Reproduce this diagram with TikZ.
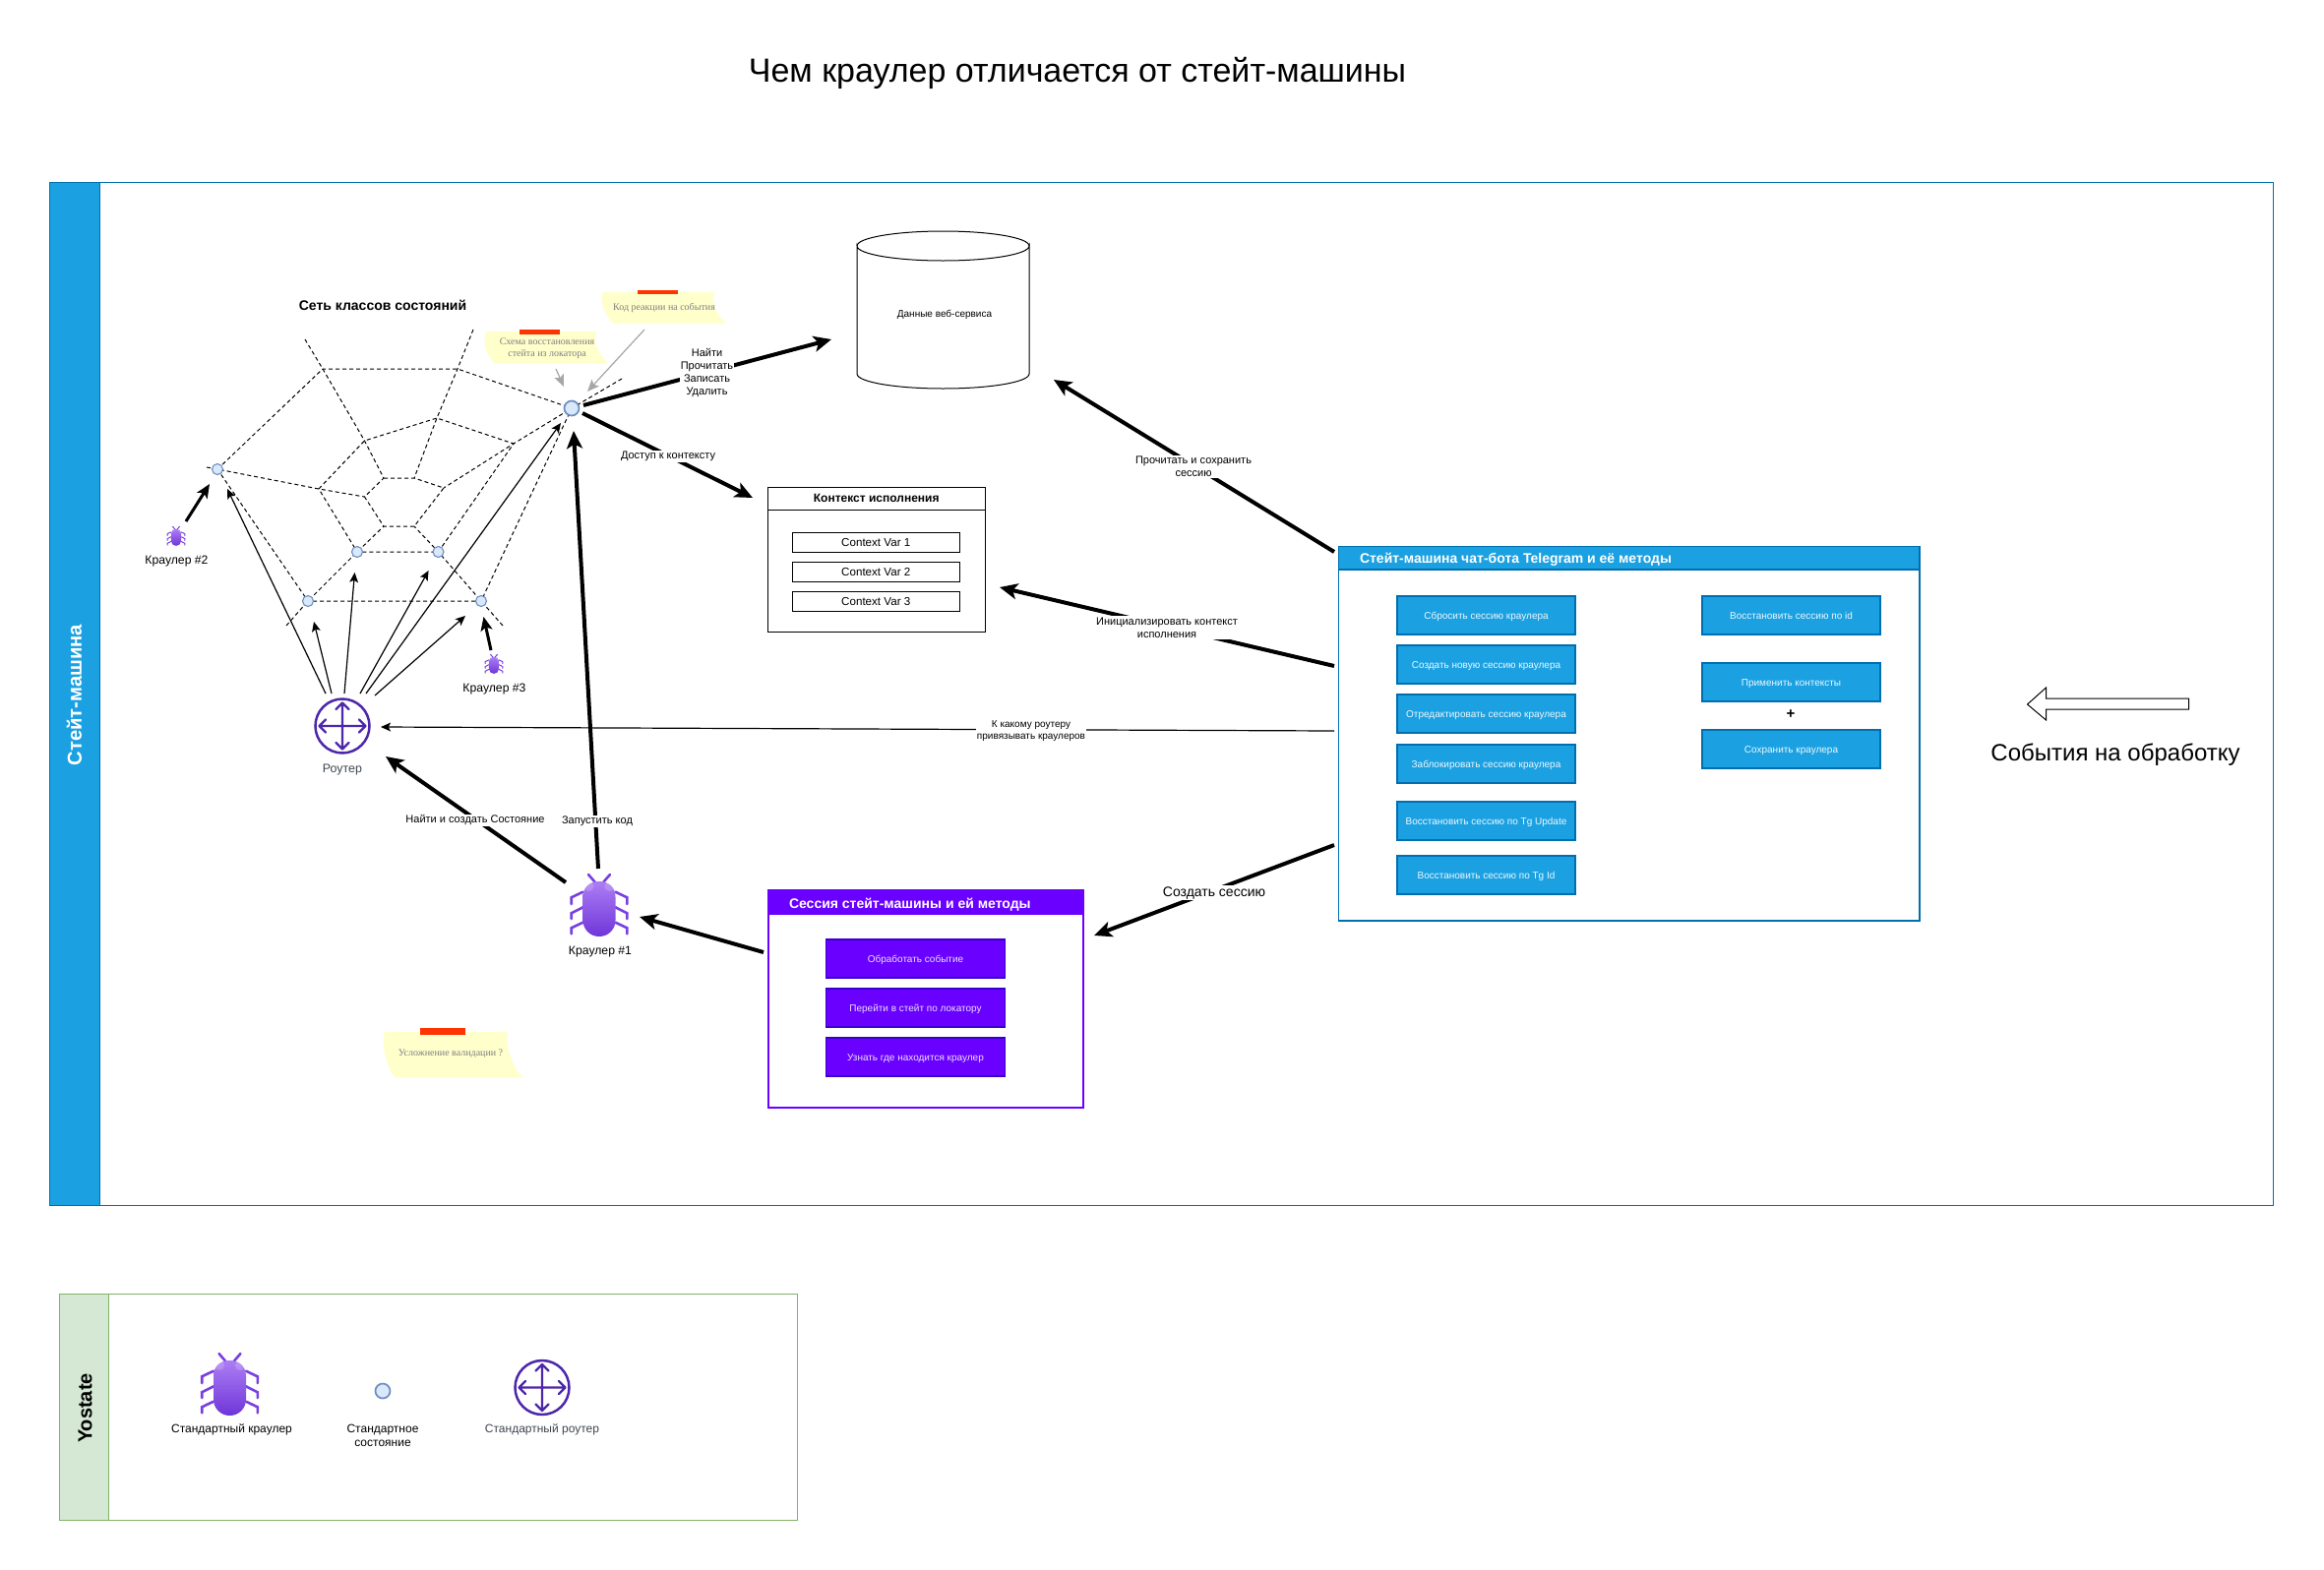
\documentclass[tikz,border=0pt]{standalone}
\usepackage{fontspec}
\setmainfont{Liberation Sans}
\newfontfamily\notefont{Liberation Serif}
\usetikzlibrary{arrows.meta}
\definecolor{lanefill}{HTML}{1BA1E2}
\definecolor{laneline}{HTML}{006EAF}
\definecolor{violetfill}{HTML}{6A00FF}
\definecolor{violetline}{HTML}{3700CC}
\definecolor{routerc}{HTML}{4D27AA}
\definecolor{routerl}{HTML}{3F4650}
\definecolor{greenfill}{HTML}{D5E8D4}
\definecolor{greenline}{HTML}{82B366}
\definecolor{dotfill}{HTML}{DAE8FC}
\definecolor{dotline}{HTML}{6C8EBF}
\definecolor{notefill}{HTML}{FFFFCC}
\definecolor{tabred}{HTML}{FF3300}
\definecolor{bugtop}{HTML}{AC7EF4}
\definecolor{bugbot}{HTML}{6F35D8}
\definecolor{bugleg}{HTML}{7A3FE0}
\definecolor{notetext}{HTML}{7F7F7F}
\tikzset{
  x=0.5pt,y=-0.5pt,
  every node/.style={inner sep=0pt,outer sep=0pt,align=center,text=black},
  fsB/.style={font=\fontsize{5.5}{6.5}\selectfont},
  fsC/.style={font=\fontsize{6.1}{7}\selectfont},
  fsK/.style={font=\fontsize{5}{6}\selectfont},
  bigarrow/.style={line width=2pt,-{Stealth[length=9pt,width=8pt,inset=2.2pt]}},
  midarrow/.style={line width=1.5pt,-{Stealth[length=7pt,width=6pt,inset=1.6pt]}},
  thinarrow/.style={line width=0.6pt,-{Stealth[length=5pt,width=4.4pt,inset=1.1pt]}},
  notearrow/.style={line width=0.6pt,draw=black!35,-{Stealth[length=6pt,width=5pt,inset=1.2pt]}},
  web/.style={line width=0.5pt,dash pattern=on 2pt off 1.5pt},
  smalldot/.style={circle,draw=dotline,fill=dotfill,line width=0.55pt,minimum size=5.5pt},
  bigdot/.style={circle,draw=dotline,fill=dotfill,line width=0.85pt,minimum size=7.5pt},
  bluebtn/.style={draw=laneline,fill=lanefill,line width=0.8pt,text=white!92!lanefill,font=\fontsize{5}{6}\selectfont},
  violetbtn/.style={draw=violetline,fill=violetfill,line width=0.8pt,text=white!88!violetfill,font=\fontsize{5}{6}\selectfont},
  varbox/.style={draw=black,fill=white,line width=0.5pt,font=\fontsize{5.8}{6.5}\selectfont},
  lab/.style={fill=white,inner sep=0.6pt},
  notetxt/.style={text=notetext,font=\notefont\fontsize{5}{6.1}\selectfont}
}
% box given by its corners in picture units
\newcommand\pbox[7]{\node[#6,minimum width={(#4-#2)*0.5pt},minimum height={(#5-#3)*0.5pt}] (#1) at ({(#2+#4)/2},{(#3+#5)/2}) {\raisebox{-0.36em}[0pt][0pt]{#7}};}
% name, x, y, scale, line width
\newcommand\bugicon[5]{%
  \node[minimum width={59*#4*0.5pt},minimum height={64*#4*0.5pt}] (#1) at (#2,#3) {};
  \begin{scope}[shift={(#2,#3)},scale=#4]
    \draw[bugleg,line width=#5,line cap=round]
      (-11,-31)--(-4.3,-23.3) (11,-31)--(4.3,-23.3)
      (-16.5,-13.3)--(-28.3,-7.7)--(-28.3,-1)
      (-16.5,2.3)--(-28.3,8.3)--(-28.3,14)
      (-16.5,17.7)--(-28.3,23.3)--(-28.3,29.3)
      (16.5,-13.3)--(28.3,-7.7)--(28.3,-1)
      (16.5,2.3)--(28.3,8.3)--(28.3,14)
      (16.5,17.7)--(28.3,23.3)--(28.3,29.3);
    \shade[top color=bugtop,bottom color=bugbot]
      (-16.5,-8) .. controls (-16.5,-18) and (-10,-24) .. (0,-24)
      .. controls (10,-24) and (16.5,-18) .. (16.5,-8) -- (16.5,15.5)
      .. controls (16.5,25) and (9,32) .. (0,32)
      .. controls (-9,32) and (-16.5,25) .. (-16.5,15.5) -- cycle;
    \fill[white,opacity=0.18] (-10.5,-19) circle (5);
    \fill[white,opacity=0.18] (10.5,-19) circle (5);
  \end{scope}}
% name, x, y
\newcommand\routericon[3]{%
  \node[circle,draw=routerc,line width=1.25pt,minimum size=27.5pt] (#1) at (#2,#3) {};
  \begin{scope}[shift={(#2,#3)}]
    \draw[routerc,line width=1.1pt,line cap=round,line join=round]
      (-23.5,0)--(23.5,0) (0,-23.5)--(0,23.5)
      (-17,-6.5)--(-23.5,0)--(-17,6.5) (17,-6.5)--(23.5,0)--(17,6.5)
      (-6.5,-17)--(0,-23.5)--(6.5,-17) (-6.5,17)--(0,23.5)--(6.5,17);
  \end{scope}}
% sticky note: TL, TR, BR, BL, tab x1,y1,x2,y2
\newcommand\sticky[8]{%
  \fill[notefill] (#1) .. controls ++(-4,12) and ++(-8,-10) ..  (#4) -- (#3)
    .. controls ++(-10,-10) and ++(-3,14) .. (#2) -- cycle;
  \fill[tabred] (#5,#6) rectangle (#7,#8);}
\begin{document}
\begin{tikzpicture}
\useasboundingbox (0,0) rectangle (2362,1596);
\fill[white] (0,0) rectangle (2362,1596);

% title
\node[font=\fontsize{17}{20}\selectfont] (title) at (1095,74) {Чем краулер отличается от стейт-машины};

% main lane
\pbox{lane}{50}{185.5}{2310}{1225}{draw=laneline,fill=white,line width=0.45pt}{}
\pbox{laneh}{50}{185.5}{101}{1225}{draw=laneline,fill=lanefill,line width=0.45pt}{}
\node[rotate=90,text=white,font=\bfseries\fontsize{10.1}{12}\selectfont] (lanet) at (75.5,706.5) {Стейт-машина};

% legend lane
\pbox{leg}{60}{1315}{810.5}{1545}{draw=greenline,fill=white,line width=0.5pt}{}
\pbox{legh}{60}{1315}{110.7}{1545}{draw=greenline,fill=greenfill,line width=0.5pt}{}
\node[rotate=90,font=\bfseries\fontsize{10}{12}\selectfont] (legt) at (86.5,1431.5) {Yostate};

% web: named joints
\coordinate (A) at (328,375);
\coordinate (B) at (465,375);
\coordinate (M1) at (324,497);
\coordinate (M2) at (370.5,448);
\coordinate (M3) at (444,425);
\coordinate (M4) at (522,451);
\coordinate (I1) at (390,486);
\coordinate (I2) at (421,486);
\coordinate (I3) at (451,496);
\coordinate (I4) at (421,535);
\coordinate (I5) at (390,535);
\coordinate (I6) at (370.5,505);
\coordinate (E1) at (310,345);
\coordinate (E2) at (481,335);
\coordinate (E3) at (632,385);
\coordinate (E4) at (511,636);
\coordinate (E5) at (291,636);
\coordinate (E6) at (210,475);
\coordinate (SS) at (581,415);
\coordinate (D2) at (221,477);
\coordinate (D3) at (363,561);
\coordinate (D4) at (445.5,561);
\coordinate (D5) at (313,611);
\coordinate (D6) at (489,611);

\draw[web] (D2)--(A)--(B)--(SS)--(D6)--(D5)--cycle;
\draw[web] (M1)--(M2)--(M3)--(M4)--(D4)--(D3)--cycle;
\draw[web] (I1)--(I2)--(I3)--(I4)--(I5)--(I6)--cycle;
\draw[web] (E1)--(A)--(M2)--(I1);
\draw[web] (E2)--(B)--(M3)--(I2);
\draw[web] (E3)--(SS)--(M4)--(I3);
\draw[web] (E4)--(D6)--(D4)--(I4);
\draw[web] (E5)--(D5)--(D3)--(I5);
\draw[web] (E6)--(D2)--(M1)--(I6);

\node[smalldot] (d2) at (D2) {};
\node[smalldot] (d3) at (D3) {};
\node[smalldot] (d4) at (D4) {};
\node[smalldot] (d5) at (D5) {};
\node[smalldot] (d6) at (D6) {};
\node[bigdot] (s1) at (SS) {};

\node[font=\bfseries\fontsize{7}{8}\selectfont] (webtitle) at (389,310) {Сеть классов состояний};

% notes
\sticky{494,337}{606,337}{618,369}{502,369}{528}{335}{569}{340}
\node[notetxt] (note1) at (556,354) {Схема восстановления\\стейта из локатора};
\sticky{613,297}{726,297}{738,329}{623,329}{648}{294.5}{689}{299}
\node[notetxt] (note2) at (675,313) {Код реакции на события};
\sticky{391,1049}{516,1049}{531,1095}{401,1095}{427}{1045}{473}{1052}
\node[notetxt] (note3) at (458,1071) {Усложнение валидации ?};

\coordinate (n1a) at (565,375);
\coordinate (n1b) at (573,393);
\coordinate (n2a) at (655,335);
\coordinate (n2b) at (597,398);
\draw[notearrow] (n1a)--(n1b);
\draw[notearrow] (n2a)--(n2b);

% router and crawlers
\routericon{router}{348}{738}
\node[text=routerl,font=\fontsize{6.2}{7}\selectfont] (routerlab) at (348,782.5) {Роутер};
\bugicon{bug1}{609}{920}{1}{1.3pt}
\node[fsC] (bug1lab) at (610,967.5) {Краулер \#1};
\bugicon{bug2}{179}{545}{0.31}{0.5pt}
\node[fsC] (bug2lab) at (179.5,570.5) {Краулер \#2};
\bugicon{bug3}{502}{675}{0.31}{0.5pt}
\node[fsC] (bug3lab) at (502.5,700.5) {Краулер \#3};

% arrows from the router
\coordinate (r1) at (331,705); \coordinate (t1) at (231,497);
\coordinate (r2) at (337,705); \coordinate (t2) at (319,632);
\coordinate (r3) at (350,705); \coordinate (t3) at (360.5,582);
\coordinate (r4) at (366,705); \coordinate (t4) at (435.6,580);
\coordinate (r5) at (372,705); \coordinate (t5) at (570,430);
\coordinate (r6) at (381,707); \coordinate (t6) at (473,626);
\draw[thinarrow] (r1)--(t1);
\draw[thinarrow] (r2)--(t2);
\draw[thinarrow] (r3)--(t3);
\draw[thinarrow] (r4)--(t4);
\draw[thinarrow] (r5)--(t5);
\draw[thinarrow] (r6)--(t6);

\coordinate (b2a) at (189,530); \coordinate (b2b) at (213,492);
\coordinate (b3a) at (499,661); \coordinate (b3b) at (491.5,627);
\draw[midarrow] (b2a)--(b2b);
\draw[midarrow] (b3a)--(b3b);

% database
\draw[line width=0.5pt,fill=white] (871,250) arc[start angle=180,end angle=360,x radius=87.5,y radius=-15]
  -- (1046,380) arc[start angle=0,end angle=-180,x radius=87.5,y radius=-15] -- cycle;
\draw[line width=0.5pt] (871,250) arc[start angle=180,end angle=0,x radius=87.5,y radius=-15];
\node[font=\fontsize{5}{6}\selectfont] (db) at (960,319.5) {Данные веб-сервиса};

% context box
\pbox{ctx}{780.5}{495}{1001}{642}{draw=black,fill=white,line width=0.5pt}{}
\pbox{ctxh}{780.5}{495}{1001}{518}{draw=black,fill=white,line width=0.5pt,font=\bfseries\fontsize{6}{7}\selectfont}{Контекст исполнения}
\pbox{var1}{805}{541}{975.5}{561}{varbox}{Context Var 1}
\pbox{var2}{805}{571}{975.5}{591}{varbox}{Context Var 2}
\pbox{var3}{805}{601}{975.5}{621}{varbox}{Context Var 3}

% session box
\pbox{ses}{780.5}{905}{1100.5}{1126}{draw=violetfill,fill=white,line width=1pt}{}
\pbox{sesh}{780.5}{905}{1100.5}{929}{draw=violetfill,fill=violetfill,line width=1pt}{}
\node[anchor=west,text=white,font=\bfseries\fontsize{7}{8}\selectfont] (sest) at (802,920) {Сессия стейт-машины и ей методы};
\pbox{v1}{839.5}{955}{1021.5}{994}{violetbtn}{Обработать событие}
\pbox{v2}{839.5}{1005}{1021.5}{1044}{violetbtn}{Перейти в стейт по локатору}
\pbox{v3}{839.5}{1055}{1021.5}{1094}{violetbtn}{Узнать где находится краулер}

% state-machine box
\pbox{sm}{1360.5}{555.5}{1951}{936}{draw=laneline,fill=white,line width=0.9pt}{}
\pbox{smh}{1360.5}{555.5}{1951}{579}{draw=laneline,fill=lanefill,line width=0.9pt}{}
\node[anchor=west,text=white,font=\bfseries\fontsize{7}{8}\selectfont] (smt) at (1382,568.5) {Стейт-машина чат-бота Telegram и её методы};
\pbox{l1}{1420}{606}{1601}{645}{bluebtn}{Сбросить сессию краулера}
\pbox{l2}{1420}{656}{1601}{695}{bluebtn}{Создать новую сессию краулера}
\pbox{l3}{1420}{706}{1601}{745}{bluebtn}{Отредактировать сессию краулера}
\pbox{l4}{1420}{757}{1601}{796}{bluebtn}{Заблокировать сессию краулера}
\pbox{l5}{1420}{815}{1601}{854}{bluebtn}{Восстановить сессию по Tg Update}
\pbox{l6}{1420}{870}{1601}{909}{bluebtn}{Восстановить сессию по Tg Id}
\pbox{r1b}{1730}{606}{1911}{645}{bluebtn}{Восстановить сессию по id}
\pbox{r2b}{1730}{674}{1911}{713}{bluebtn}{Применить контексты}
\pbox{r3b}{1730}{742}{1911}{781}{bluebtn}{Сохранить краулера}
\node[font=\bfseries\fontsize{7.5}{8}\selectfont] (plus) at (1820,726) {+};

% big connectors
\coordinate (s1e) at (593,412); \coordinate (dbw) at (845,345);
\coordinate (s1f) at (592,420); \coordinate (ctxw) at (765,506);
\coordinate (bugn) at (608,883); \coordinate (s1s) at (583,438);
\coordinate (bugw) at (575,897); \coordinate (rts) at (392,769);
\coordinate (sesw) at (776,968); \coordinate (buge) at (650,932);
\coordinate (sm1) at (1356,561); \coordinate (dbs) at (1071,386);
\coordinate (sm2) at (1356,677); \coordinate (ctxe) at (1016,597);
\coordinate (sm3) at (1356,743); \coordinate (rte) at (387,739);
\coordinate (sm4) at (1356,859); \coordinate (sese) at (1112,951);

\draw[bigarrow] (s1e)--(dbw);
\draw[bigarrow] (s1f)--(ctxw);
\draw[bigarrow] (bugn)--(s1s);
\draw[bigarrow] (bugw)--(rts);
\draw[bigarrow] (sesw)--(buge);
\draw[bigarrow] (sm1)--(dbs);
\draw[bigarrow] (sm2)--(ctxe);
\draw[bigarrow] (sm4)--(sese);
\draw[thinarrow] (sm3)--(rte);

\node[lab,fsB] (l1lab) at (718.5,379.5) {Найти\\Прочитать\\Записать\\Удалить};
\node[lab,fsB] (l2lab) at (679,464) {Доступ к контексту};
\node[lab,fsB] (l3lab) at (607,835) {Запустить код};
\node[lab,fsB] (l4lab) at (483,834) {Найти и создать Состояние};
\node[lab,fsB] (l5lab) at (1213,474.5) {Прочитать и сохранить\\сессию};
\node[lab,fsB] (l6lab) at (1186,638) {Инициализировать контекст\\исполнения};
\node[lab,fsK] (l7lab) at (1048,743) {К какому роутеру\\привязывать краулеров};
\node[lab,font=\fontsize{7}{8}\selectfont] (l8lab) at (1234,907.5) {Создать сессию};

% events arrow
\draw[line width=0.5pt,fill=white] (2060.5,716) coordinate (evtip) -- (2079.5,699) -- (2079.5,710) -- (2224.5,710) -- (2224.5,721) -- (2079.5,721) -- (2079.5,732) -- cycle;
\node[font=\fontsize{12}{14}\selectfont] (evt) at (2150,767.5) {События на обработку};

% legend contents
\bugicon{legbug}{233.5}{1407}{1}{1.3pt}
\node[font=\fontsize{6}{7}\selectfont] (legbuglab) at (235.5,1453.5) {Стандартный краулер};
\node[bigdot] (legdot) at (389,1414) {};
\node[font=\fontsize{6}{7}\selectfont,anchor=north] (legdotlab) at (389,1448) {Стандартное\\состояние};
\routericon{legrouter}{551}{1410.5}
\node[text=routerl,font=\fontsize{6}{7}\selectfont] (legrouterlab) at (551,1453) {Стандартный роутер};
\end{tikzpicture}
\end{document}
